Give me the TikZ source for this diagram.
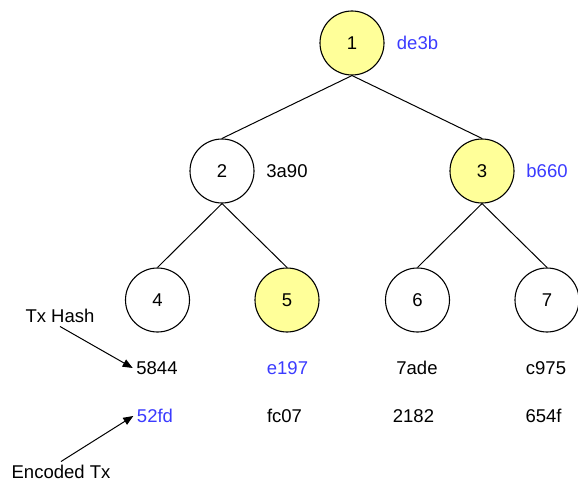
\documentclass[tikz,border=0pt]{standalone}
\usepackage{fontspec}
\setmainfont{Liberation Sans}
\usepackage{tikz}
\usetikzlibrary{arrows.meta}
\definecolor{hashblue}{HTML}{3B3BFF}
\definecolor{pathyel}{HTML}{FFFF99}
\tikzstyle{tnode} = [circle, draw=black, line width=1.1pt,
    minimum size=64pt, inner sep=0pt]
\tikzstyle{onpath} = [tnode, fill=pathyel]
\tikzstyle{hash} = [inner sep=3.5pt]
\tikzstyle{every node}=[font=\fontsize{18.5}{22}\selectfont]

\begin{document}
\begin{tikzpicture}[x=1pt,y=-1pt]
	\useasboundingbox (0,0) rectangle (578,484);

	% root
	\node[onpath] (n1) at (352,43) {1};
	\node[hash, text=hashblue] (h1) at (417.5,43) {de3b};

	% level 2
	\node[tnode] (n2) at (222,171) {2};
	\node[onpath] (n3) at (482,171) {3};
	\node[hash] (h2) at (287,171) {3a90};
	\node[hash, text=hashblue] (h3) at (547,171) {b660};

	% leaves
	\node[tnode] (n4) at (157.5,300) {4};
	\node[onpath] (n5) at (287,300) {5};
	\node[tnode] (n6) at (417.5,300) {6};
	\node[tnode] (n7) at (547,300) {7};

	% tx hashes
	\node[hash] (t4) at (157,368) {5844};
	\node[hash, text=hashblue] (t5) at (287.5,368) {e197};
	\node[hash] (t6) at (417,368) {7ade};
	\node[hash] (t7) at (546,368) {c975};

	% encoded tx
	\node[hash, text=hashblue] (e4) at (155,416) {52fd};
	\node[hash] (e5) at (284.5,416) {fc07};
	\node[hash] (e6) at (413.5,416) {2182};
	\node[hash] (e7) at (543.5,416) {654f};

	% legend
	\node[hash] (txh) at (60,316) {Tx Hash};
	\node[hash] (enc) at (61,472) {Encoded Tx};

	% edges
	\draw[line width=1pt] (n1.south) -- (n2.north);%1->2
	\draw[line width=1pt] (n1.south) -- (n3.north);%1->3
	\draw[line width=1pt] (n2.south) -- (n4.north);%2->4
	\draw[line width=1pt] (n2.south) -- (n5.north);%2->5
	\draw[line width=1pt] (n3.south) -- (n6.north);%3->6
	\draw[line width=1pt] (n3.south) -- (n7.north);%3->7

	% pointers
	\draw[line width=1pt, -{Triangle[length=10pt,width=8pt]}] (txh.south) -- (t4.west);
	\draw[line width=1pt, -{Triangle[length=10pt,width=8pt]}] (enc.north) -- (e4.west);
\end{tikzpicture}
\end{document}
